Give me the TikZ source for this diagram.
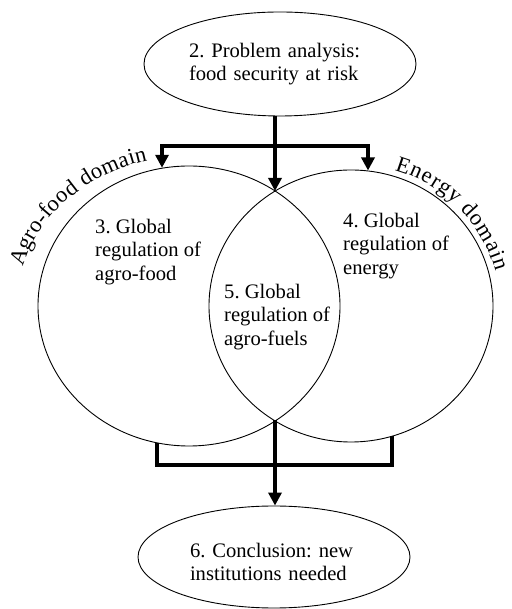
\documentclass[tikz,border=0pt]{standalone}
\usepackage{fontspec}
\setmainfont{Liberation Serif}
\usetikzlibrary{arrows.meta,decorations.text,shapes.geometric}
\begin{document}
\frenchspacing
\begin{tikzpicture}[x=1pt,y=1pt,
  domainbox/.style={draw, ellipse, inner sep=0pt, line width=0.9pt},
  stagebox/.style={draw, ellipse, inner sep=0pt, line width=0.9pt, align=left, font=\fontsize{20.6}{23.5}\selectfont},
  lbl/.style={inner sep=0pt, align=left, anchor=north west, font=\fontsize{20.6}{23.5}\selectfont},
  conn/.style={line width=3.8pt},
  tipend/.style={-{Triangle[width=13pt,length=13pt]}},
  bothtips/.style={{Triangle[width=13pt,length=13pt]}-{Triangle[width=13pt,length=13pt]}},
  arctext/.style={decorate, decoration={text along path, text align=fit to path, text={|\fontsize{22.5}{26}\selectfont|#1}}},
]
\path[use as bounding box, fill=white] (0,0) rectangle (511,609);
\node[domainbox, minimum width=302pt, minimum height=280pt] (agro) at (189,303) {};
\node[domainbox, minimum width=284pt, minimum height=272pt] (energy) at (351,303) {};
\node[stagebox, minimum width=272pt, minimum height=104pt, text width=182pt] (prob) at (280,545) {2. Problem analysis:\\food security at risk};
\node[stagebox, minimum width=272pt, minimum height=102pt, text width=168pt] (concl) at (274,52) {\rule{0pt}{24pt}6. Conclusion: new\\institutions needed};
\node[lbl] (t3) at (95,390.1) {3. Global\\regulation of\\agro-food};
\node[lbl] (t4) at (343,396.1) {4. Global\\regulation of\\energy};
\node[lbl] (t5) at (224,325.1) {5. Global\\regulation of\\agro-fuels};
\coordinate (ti) at (275,418);
\coordinate (bi) at (275,189);
\coordinate (tl) at (162,463);
\coordinate (tr) at (368,463);
\coordinate (bl) at (157,144);
\coordinate (br) at (392,144);
\draw[conn,tipend] (prob.south -| ti) -- (ti);
\draw[conn,bothtips] (tl |- agro.101) -- (tl) -- (tr) -- (tr |- energy.83);
\draw[conn] (bl |- agro.257) -- (bl) -- (br) -- (br |- energy.288);
\draw[conn,tipend] (bi) -- (bi |- concl.north);
\path[arctext={Agro-food domain}] ([shift={(189,303)}]164.9:172 and 150) arc[start angle=164.9, end angle=104, x radius=172, y radius=150];
\path[arctext={Energy domain}] ([shift={(351,303)}]73:149 and 142) arc[start angle=73, end angle=14, x radius=149, y radius=142];
\end{tikzpicture}
\end{document}
